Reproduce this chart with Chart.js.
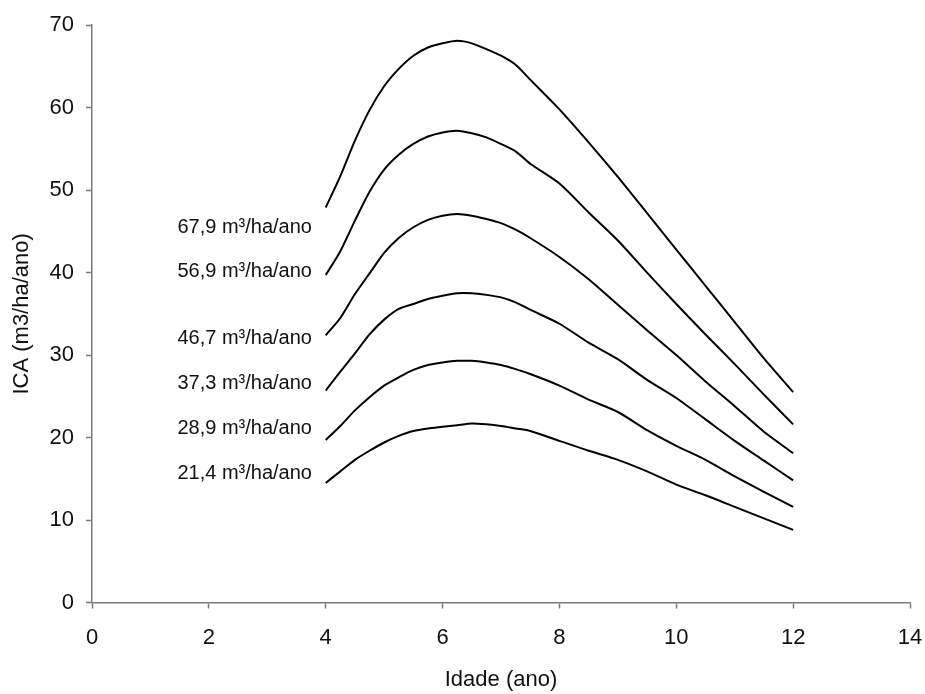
<!DOCTYPE html>
<html>
<head>
<meta charset="utf-8">
<script src="https://cdn.jsdelivr.net/npm/chart.js@4/dist/chart.umd.min.js"></script>
<style>
  html, body { margin: 0; padding: 0; background: #fff; }
  #wrap { width: 925px; height: 694px; }
</style>
</head>
<body>
<div id="wrap"><canvas id="chart-ica" width="925" height="694"></canvas></div>
<script>
// idade (anos) e ICA por classe de produtividade
const idade = [4, 4.25, 4.5, 4.75, 5, 5.25, 5.5, 5.75, 6, 6.25, 6.5, 6.75, 7, 7.25, 7.5, 8, 8.5, 9, 9.5, 10, 10.5, 11, 11.5, 12];

const ica679 = [47.9, 51.7, 56.0, 59.7, 62.6, 64.7, 66.3, 67.3, 67.8, 68.1, 67.8, 67.1, 66.3, 65.2, 63.4, 59.8, 55.8, 51.6, 47.2, 42.8, 38.4, 34.0, 29.6, 25.5];
const ica569 = [39.7, 42.6, 46.3, 49.8, 52.5, 54.3, 55.6, 56.5, 57.0, 57.2, 56.9, 56.4, 55.6, 54.7, 53.2, 50.8, 47.3, 43.9, 40.0, 36.2, 32.5, 28.9, 25.2, 21.6];
const ica467 = [32.4, 34.5, 37.4, 39.9, 42.4, 44.2, 45.5, 46.4, 46.9, 47.1, 46.9, 46.5, 46.0, 45.2, 44.2, 41.9, 39.2, 36.1, 33.0, 30.0, 26.8, 23.8, 20.7, 18.1];
const ica373 = [25.7, 28.0, 30.2, 32.5, 34.3, 35.6, 36.2, 36.8, 37.2, 37.5, 37.5, 37.3, 37.0, 36.4, 35.5, 33.8, 31.5, 29.5, 27.0, 24.8, 22.2, 19.6, 17.2, 14.8];
const ica289 = [19.7, 21.4, 23.3, 24.9, 26.3, 27.3, 28.2, 28.8, 29.1, 29.3, 29.3, 29.1, 28.8, 28.3, 27.7, 26.3, 24.6, 23.1, 20.9, 19.0, 17.3, 15.3, 13.4, 11.6];
const ica214 = [14.5, 15.9, 17.3, 18.4, 19.4, 20.2, 20.8, 21.1, 21.3, 21.5, 21.7, 21.6, 21.4, 21.1, 20.8, 19.6, 18.4, 17.3, 15.9, 14.3, 13.0, 11.6, 10.2, 8.8];

const series = [ica679, ica569, ica467, ica373, ica289, ica214];
const classLabels = ['67,9 m³/ha/ano', '56,9 m³/ha/ano', '46,7 m³/ha/ano', '37,3 m³/ha/ano', '28,9 m³/ha/ano', '21,4 m³/ha/ano'];

const xTicks = [0, 2, 4, 6, 8, 10, 12, 14];
const yTicks = [0, 10, 20, 30, 40, 50, 60, 70];

const FONT = '"Liberation Sans", Arial, Helvetica, sans-serif';
const AXIS_GREY = '#7a7a7a';

// where each class label sits (x in anos, y in ICA units)
const labelX = 3.765;
const labelY = [45.5, 40.1, 32.0, 26.5, 21.1, 15.6];

const classLabelPlugin = {
  id: 'classLabels',
  afterDatasetsDraw(chart) {
    const { ctx, scales } = chart;
    ctx.save();
    ctx.font = '20px ' + FONT;
    ctx.fillStyle = '#111';
    ctx.textAlign = 'right';
    ctx.textBaseline = 'middle';
    classLabels.forEach((txt, i) => {
      ctx.fillText(txt, scales.x.getPixelForValue(labelX), scales.y.getPixelForValue(labelY[i]));
    });
    ctx.restore();
  }
};

const datasets = series.map((vals, i) => ({
  label: classLabels[i],
  data: idade.map((x, j) => ({ x, y: vals[j] })),
  borderColor: '#000',
  borderWidth: 2,
  pointRadius: 0,
  tension: 0.25,
  fill: false
}));

new Chart(document.getElementById('chart-ica'), {
  type: 'line',
  data: { datasets },
  plugins: [classLabelPlugin],
  options: {
    responsive: false,
    animation: false,
    events: [],
    layout: { padding: { top: 24, right: 15, left: 0, bottom: 0 } },
    plugins: {
      legend: { display: false },
      tooltip: { enabled: false }
    },
    scales: {
      x: {
        type: 'linear',
        min: 0,
        max: 14,
        afterBuildTicks: (scale) => { scale.ticks = xTicks.map(v => ({ value: v })); },
        afterFit: (scale) => {
          scale.height = 91.5;
          // keep the "14" label from pushing the plot edge inwards
          scale.paddingRight = 0;
          scale.paddingLeft = 0;
        },
        border: { display: true, color: AXIS_GREY, width: 1.5 },
        grid: { drawOnChartArea: false, drawTicks: true, tickLength: 6, tickColor: AXIS_GREY, tickWidth: 1.5 },
        ticks: { color: '#111', font: { family: FONT, size: 22 }, padding: 16, maxRotation: 0 },
        title: {
          display: true,
          text: 'Idade (ano)',
          color: '#111',
          font: { family: FONT, size: 22 },
          padding: { top: 0, bottom: 1 }
        }
      },
      y: {
        type: 'linear',
        min: 0,
        max: 70,
        afterBuildTicks: (scale) => { scale.ticks = yTicks.map(v => ({ value: v })); },
        afterFit: (scale) => { scale.width = 92; },
        border: { display: true, color: AXIS_GREY, width: 1.5 },
        grid: { drawOnChartArea: false, drawTicks: true, tickLength: 6, tickColor: AXIS_GREY, tickWidth: 1.5 },
        ticks: { color: '#111', font: { family: FONT, size: 22 }, padding: 12 },
        title: {
          display: true,
          text: 'ICA (m3/ha/ano)',
          color: '#111',
          font: { family: FONT, size: 22 },
          padding: { top: 9, bottom: 0 }
        }
      }
    }
  }
});
</script>
</body>
</html>
